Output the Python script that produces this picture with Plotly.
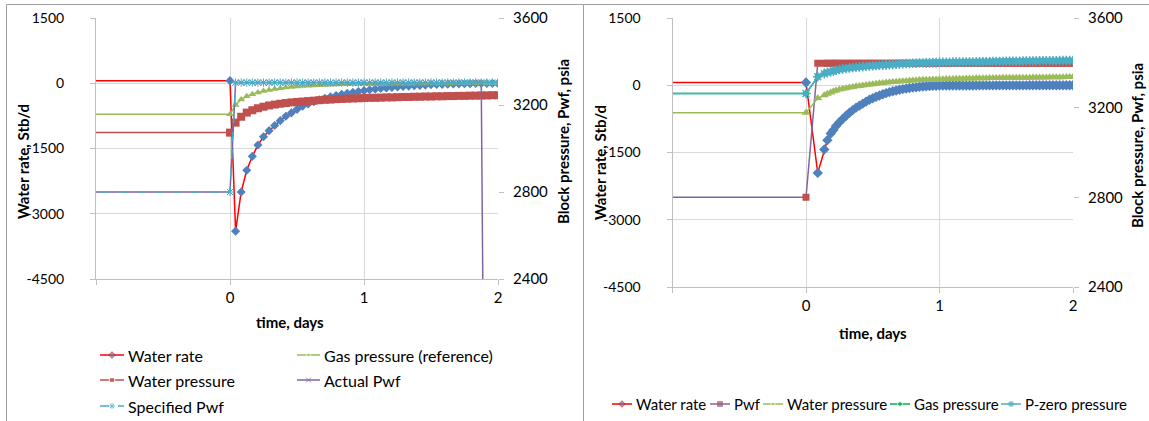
import plotly.graph_objects as go

# ---------------- data: left chart ----------------
time_left = [-1.5, 0, 0.0417, 0.0833, 0.125, 0.1667, 0.2083, 0.25, 0.2917, 0.3333, 0.375,
             0.4167, 0.4583, 0.5, 0.5417, 0.5833, 0.625, 0.6667, 0.7083, 0.75, 0.7917,
             0.8333, 0.875, 0.9167, 0.9583, 1.0, 1.0417, 1.0833, 1.125, 1.1667, 1.2083,
             1.25, 1.2917, 1.3333, 1.375, 1.4167, 1.4583, 1.5, 1.5417, 1.5833, 1.625,
             1.6667, 1.7083, 1.75, 1.7917, 1.8333, 1.875, 1.9167, 1.9583, 2.0]
water_rate_left = [60, 60, -3400, -2500, -2000, -1680, -1420, -1230, -1090, -970, -860,
                   -760, -680, -600, -530, -475, -425, -380, -345, -310, -280, -255, -230,
                   -210, -190, -170, -150, -135, -120, -107, -95, -84, -74, -65, -57, -49,
                   -42, -36, -30, -25, -21, -17, -14, -11, -9, -7, -6, -5, -4, -3]
gas_pressure_ref_left = [3157, 3157, 3200, 3225, 3240, 3250, 3258, 3264, 3269, 3273, 3277,
                         3280, 3283, 3285, 3287, 3289, 3290, 3291, 3292, 3293, 3294, 3295,
                         3295, 3296, 3296, 3296, 3297, 3297, 3297, 3297, 3298, 3298, 3298,
                         3298, 3298, 3299, 3299, 3299, 3299, 3299, 3299, 3300, 3300, 3300,
                         3300, 3300, 3300, 3300, 3300, 3300]
water_pressure_left = [3073, 3073, 3119, 3146, 3165, 3176, 3185, 3192, 3198, 3202, 3206,
                       3209, 3212, 3214, 3216, 3218, 3220, 3222, 3224, 3225, 3227, 3228,
                       3229, 3230, 3231, 3232, 3233, 3233, 3234, 3235, 3235, 3236, 3237,
                       3237, 3238, 3238, 3239, 3239, 3240, 3240, 3241, 3241, 3242, 3242,
                       3243, 3243, 3244, 3244, 3245, 3245]
actual_pwf_left = [2800, 2800] + [3303] * 45 + [0, 0, 0]
specified_pwf_left = [2800, 2800] + [3303] * 48

# ---------------- data: right chart ----------------
time_right = [-1.5, 0, 0.088, 0.137, 0.16, 0.185, 0.205, 0.225,
              0.25, 0.275, 0.3, 0.325, 0.35, 0.375, 0.4, 0.425, 0.45, 0.475,
              0.5, 0.525, 0.55, 0.575, 0.6, 0.625, 0.65, 0.675, 0.7, 0.725,
              0.75, 0.775, 0.8, 0.825, 0.85, 0.875, 0.9, 0.925, 0.95, 0.975,
              1.0, 1.025, 1.05, 1.075, 1.1, 1.125, 1.15, 1.175, 1.2, 1.225,
              1.25, 1.275, 1.3, 1.325, 1.35, 1.375, 1.4, 1.425, 1.45, 1.475,
              1.5, 1.525, 1.55, 1.575, 1.6, 1.625, 1.65, 1.675, 1.7, 1.725,
              1.75, 1.775, 1.8, 1.825, 1.85, 1.875, 1.9, 1.925, 1.95, 1.975, 2.0]
water_rate_right = [60, 60, -1955, -1433, -1225, -1075, -1000, -910,
                    -825, -750, -680, -615, -555, -500, -455, -410, -365, -325,
                    -290, -258, -228, -200, -176, -154, -134, -116, -100, -86,
                    -73, -62, -52, -43, -35, -28, -22, -17, -13, -10,
                    -8, -7, -6, -6, -5, -5, -5, -4, -4, -4,
                    -4, -3, -3, -3, -3, -3, -3, -2, -2, -2,
                    -2, -2, -2, -2, -2, -2, -2, -1, -1, -1,
                    -1, -1, -1, -1, -1, -1, -1, -1, -1, -1, -1]
pwf_right = [2800, 2800] + [3398] * 77
water_pressure_right = [3177, 3177, 3242, 3255, 3262, 3268, 3273, 3277,
                        3281, 3284, 3287, 3290, 3292, 3295, 3297, 3299, 3301, 3303,
                        3305, 3307, 3309, 3310, 3312, 3313, 3315, 3316, 3317, 3318,
                        3319, 3320, 3321, 3322, 3323, 3324, 3324, 3325, 3326, 3326,
                        3327, 3327, 3328, 3328, 3328, 3329, 3329, 3329, 3330, 3330,
                        3330, 3331, 3331, 3331, 3331, 3332, 3332, 3332, 3332, 3333,
                        3333, 3333, 3333, 3334, 3334, 3334, 3334, 3334, 3335, 3335,
                        3335, 3335, 3335, 3336, 3336, 3336, 3336, 3336, 3337, 3337, 3337]
p_zero_pressure_right = [3263, 3263, 3338, 3352, 3357, 3361, 3364, 3367,
                         3370, 3373, 3375, 3377, 3379, 3380, 3382, 3383, 3385, 3386,
                         3387, 3388, 3389, 3390, 3391, 3392, 3393, 3394, 3395, 3396,
                         3397, 3397, 3398, 3398, 3399, 3399, 3400, 3400, 3401, 3401,
                         3402, 3402, 3402, 3402, 3403, 3403, 3403, 3403, 3404, 3404,
                         3404, 3404, 3405, 3405, 3405, 3405, 3406, 3406, 3406, 3406,
                         3407, 3407, 3407, 3407, 3407, 3408, 3408, 3408, 3408, 3408,
                         3409, 3409, 3409, 3409, 3409, 3409, 3410, 3410, 3410, 3410, 3410]
# gas pressure lies under the P-zero pressure curve in the picture
gas_pressure_right = list(p_zero_pressure_right)

x_ticks = [-1, 0, 1, 2]
x_tick_text = ["", "0", "1", "2"]
rate_ticks = [-4500, -3000, -1500, 0, 1500]
rate_tick_text = ["-4500", "-3000", "-1500", "0", "1500"]
pressure_ticks = [2400, 2800, 3200, 3600]
pressure_tick_text = ["2400", "2800", "3200", "3600"]

# ---------------- styling ----------------
W, H = 1149, 421
FONT = "Lato, 'Open Sans', Arial, sans-serif"
BLUE, RED_S, GREEN, PURPLE, CYAN = "#4F81BD", "#C0504D", "#9BBB59", "#8064A2", "#4BACC6"
RED, DGREEN = "#FF0000", "#00B050"
GRID = "#D9D9D9"
AX = "#BFBFBF"


def px(x):
    return x / W


def py(y):
    return 1 - y / H


fig = go.Figure()

S_RATE = dict(line=dict(color=RED, width=1.5), marker=dict(symbol="diamond", size=7, color=BLUE))
S_GASREF = dict(line=dict(color=GREEN, width=1.5), marker=dict(symbol="triangle-up", size=7, color=GREEN))
S_WP_L = dict(line=dict(color=RED_S, width=1.5), marker=dict(symbol="square", size=8, color=RED_S))
S_APWF = dict(line=dict(color=PURPLE, width=1.5),
              marker=dict(symbol="x-thin-open", size=6, color=PURPLE, line=dict(width=1, color=PURPLE)))
S_SPWF = dict(line=dict(color=CYAN, width=1.5, dash="dash"),
              marker=dict(symbol="asterisk-open", size=7, color=CYAN, line=dict(width=1, color=CYAN)))

S_RATE_R = dict(line=dict(color=RED, width=1.5), marker=dict(symbol="diamond", size=8, color=BLUE))
S_PWF_R = dict(line=dict(color=PURPLE, width=1.5), marker=dict(symbol="square", size=7, color=RED_S))
S_WP_R = dict(line=dict(color=GREEN, width=1.5), marker=dict(symbol="triangle-up", size=8, color=GREEN))
S_GAS_R = dict(line=dict(color=DGREEN, width=1.5), marker=dict(symbol="circle", size=6, color=DGREEN))
S_PZ_R = dict(line=dict(color=CYAN, width=1.5),
              marker=dict(symbol="asterisk-open", size=8, color=CYAN, line=dict(width=1.5, color=CYAN)))

# left chart traces
fig.add_trace(go.Scatter(x=time_left, y=water_rate_left, name="Water rate", mode="lines+markers",
                         xaxis="x", yaxis="y", **S_RATE))
fig.add_trace(go.Scatter(x=time_left, y=gas_pressure_ref_left, name="Gas pressure (reference)",
                         mode="lines+markers", xaxis="x", yaxis="y2", **S_GASREF))
fig.add_trace(go.Scatter(x=time_left, y=water_pressure_left, name="Water pressure",
                         mode="lines+markers", xaxis="x", yaxis="y2", **S_WP_L))
fig.add_trace(go.Scatter(x=time_left, y=actual_pwf_left, name="Actual Pwf",
                         mode="lines+markers", xaxis="x", yaxis="y2", **S_APWF))
fig.add_trace(go.Scatter(x=time_left, y=specified_pwf_left, name="Specified Pwf",
                         mode="lines+markers", xaxis="x", yaxis="y2", **S_SPWF))

# right chart traces
fig.add_trace(go.Scatter(x=time_right, y=water_rate_right, name="Water rate", mode="lines+markers",
                         xaxis="x2", yaxis="y3", **S_RATE_R))
fig.add_trace(go.Scatter(x=time_right, y=pwf_right, name="Pwf", mode="lines+markers",
                         xaxis="x2", yaxis="y4", **S_PWF_R))
fig.add_trace(go.Scatter(x=time_right, y=water_pressure_right, name="Water pressure", mode="lines+markers",
                         xaxis="x2", yaxis="y4", **S_WP_R))
fig.add_trace(go.Scatter(x=time_right, y=gas_pressure_right, name="Gas pressure", mode="lines+markers",
                         xaxis="x2", yaxis="y4", **S_GAS_R))
fig.add_trace(go.Scatter(x=time_right, y=p_zero_pressure_right, name="P-zero pressure", mode="lines+markers",
                         xaxis="x2", yaxis="y4", **S_PZ_R))

fig.update_traces(showlegend=False, hoverinfo="x+y+name")

# ---------------- legends (Excel style, drawn on a pixel overlay axis) ----------------
# (label, style, symbol x0, symbol x1, text x, row y, font size)
legend_items = [
    ("Water rate", S_RATE, 100, 124, 126, 355, 16),
    ("Gas pressure (reference)", S_GASREF, 297, 320, 322, 355, 16),
    ("Water pressure", S_WP_L, 100, 124, 126, 380, 16),
    ("Actual Pwf", S_APWF, 297, 320, 322, 380, 16),
    ("Specified Pwf", S_SPWF, 100, 124, 126, 406, 16),
    ("Water rate", S_RATE_R, 612, 632, 634, 404, 15),
    ("Pwf", S_PWF_R, 710, 730, 732, 404, 15),
    ("Water pressure", S_WP_R, 763, 783, 785, 404, 15),
    ("Gas pressure", S_GAS_R, 890, 910, 912, 404, 15),
    ("P-zero pressure", S_PZ_R, 1001, 1021, 1023, 404, 15),
]
annotations = []
for label, st, x0, x1, xt, yc, fs in legend_items:
    mk = dict(st["marker"])
    mk["size"] = [0, 5, 0]
    fig.add_trace(go.Scatter(x=[x0, (x0 + x1) / 2, x1], y=[yc, yc, yc], mode="lines+markers",
                             line=st["line"], marker=mk, xaxis="x3", yaxis="y5",
                             showlegend=False, hoverinfo="skip"))
    annotations.append(dict(text=label, x=px(xt), y=py(yc), xref="paper", yref="paper",
                            showarrow=False, xanchor="left", yanchor="middle",
                            font=dict(family=FONT, size=fs, color="#000000")))

tickfont = dict(family=FONT, size=15, color="#000000")
ytickfont = dict(family=FONT, size=14, color="#000000")


def xax(domain, anchor):
    return dict(domain=domain, anchor=anchor, range=[-1, 2], tickvals=x_ticks, ticktext=x_tick_text,
                showgrid=True, gridcolor=GRID, gridwidth=1, zeroline=False,
                showline=True, linecolor=AX, linewidth=1, ticks="outside", ticklen=5, tickcolor=AX,
                tickfont=tickfont, fixedrange=True)


def yax(domain, anchor):
    return dict(domain=domain, anchor=anchor, range=[-4500, 1500], tickvals=rate_ticks,
                ticktext=rate_tick_text,
                showgrid=True, gridcolor=GRID, gridwidth=1, zeroline=False,
                showline=True, linecolor=AX, linewidth=1, ticks="outside", ticklen=5, tickcolor=AX,
                tickfont=ytickfont, ticklabelstandoff=23, fixedrange=True)


def y2ax(overlay, anchor):
    return dict(overlaying=overlay, anchor=anchor, side="right", range=[2400, 3600], tickvals=pressure_ticks,
                ticktext=pressure_tick_text,
                showgrid=False, zeroline=False, showline=False, ticks="outside", ticklen=5, tickcolor=AX,
                tickfont=tickfont, ticklabelstandoff=6, fixedrange=True)


titlefont = dict(family=FONT, size=15, color="#000000", weight="bold")

titles = [
    dict(text="Water rate, Stb/d", x=px(23), y=py(162), textangle=-90),
    dict(text="Block pressure, Pwf, psia", x=px(563), y=py(142), textangle=-90),
    dict(text="time, days", x=px(290), y=py(322)),
    dict(text="Water rate, Stb/d", x=px(600), y=py(163), textangle=-90),
    dict(text="Block pressure, Pwf, psia", x=px(1137), y=py(146), textangle=-90),
    dict(text="time, days", x=px(873), y=py(333)),
]
for a in titles:
    a.update(xref="paper", yref="paper", showarrow=False, font=titlefont,
             xanchor="center", yanchor="middle")
annotations = titles + annotations

border = "#A0A0A0"

fig.update_layout(
    width=W, height=H, autosize=False,
    margin=dict(l=0, r=0, t=0, b=0, autoexpand=False),
    paper_bgcolor="white", plot_bgcolor="rgba(0,0,0,0)",
    showlegend=False,
    xaxis=xax([px(96), px(498)], "y"),
    yaxis=yax([py(279), py(18)], "x"),
    yaxis2=y2ax("y", "x"),
    xaxis2=xax([px(672.5), px(1073)], "y3"),
    yaxis3=yax([py(287), py(18)], "x2"),
    yaxis4=y2ax("y3", "x2"),
    xaxis3=dict(domain=[0, 1], anchor="y5", range=[0, W], visible=False, fixedrange=True),
    yaxis5=dict(domain=[0, 1], anchor="x3", range=[H, 0], visible=False, fixedrange=True),
    annotations=annotations,
    shapes=[
        dict(type="rect", xref="paper", yref="paper", x0=px(6.5), x1=px(583.5), y0=py(430), y1=py(4.5),
             line=dict(color=border, width=1)),
        dict(type="rect", xref="paper", yref="paper", x0=px(583.5), x1=px(1160), y0=py(430), y1=py(4.5),
             line=dict(color=border, width=1)),
    ],
)

fig.write_html("out.html", config={"displayModeBar": False},
               post_script="document.body.style.margin='0px';document.body.style.overflow='hidden';")
